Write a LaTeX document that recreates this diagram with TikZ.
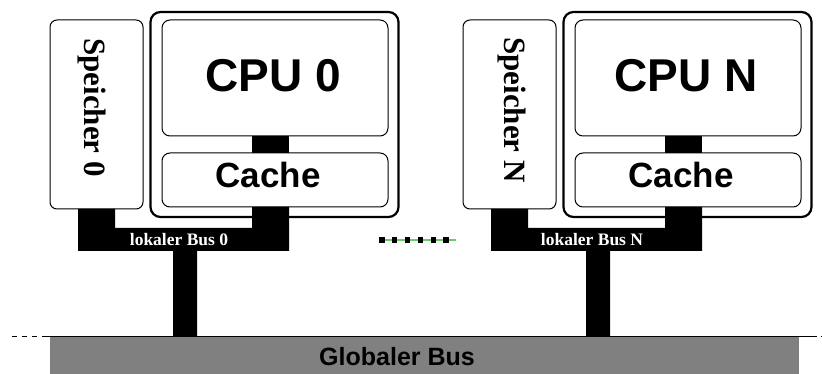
\documentclass[tikz,border=0pt]{standalone}
\usepackage{fontspec}
\setmainfont{Liberation Serif}
\setsansfont{Liberation Sans}
\usetikzlibrary{calc}
\definecolor{dotgreen}{RGB}{105,205,105}
\tikzset{
  membox/.style={draw, line width=1pt, rounded corners=7pt, fill=white,
    minimum width=93pt, minimum height=189pt, inner sep=0pt},
  outerbox/.style={draw, line width=2.2pt, rounded corners=10pt, fill=white,
    minimum width=248pt, minimum height=205pt, inner sep=0pt},
  unitbox/.style={draw, line width=1pt, rounded corners=8pt, fill=white,
    minimum width=226pt, inner sep=0pt},
  biglabel/.style={font=\sffamily\bfseries\fontsize{46}{46}\selectfont, inner sep=0pt},
  cachelabel/.style={font=\sffamily\bfseries\fontsize{35}{35}\selectfont, inner sep=0pt},
  memlabel/.style={font=\rmfamily\bfseries\fontsize{31}{31}\selectfont, rotate=-90, inner sep=0pt},
  buslabel/.style={font=\rmfamily\bfseries\fontsize{17.5}{17.5}\selectfont, text=white, inner sep=0pt},
  busfill/.style={fill=black},
}
% one processing node: memory, CPU with cache, local bus and its stem
\newcommand\procgroup[5]{%
  \begin{scope}[xshift=#1]
    \node[membox] (mem#2) at (96.5,114.5) {};
    \node[outerbox] (node#2) at (274.5,114.5) {};
    \node[unitbox, minimum height=116pt] (cpu#2) at (275,78) {};
    \node[unitbox, minimum height=54pt] (cache#2) at (275,180) {};
    % link between CPU and cache
    \fill[busfill] (252,136.5) rectangle (289,153);
    % local bus with its taps and the stem down to the global bus
    \fill[busfill] (78,209) -- (115,209) -- (115,228) -- (252,228) -- (252,207)
      -- (289,207) -- (289,251) -- (197,251) -- (197,336) -- (173,336)
      -- (173,251) -- (78,251) -- cycle;
    \node[biglabel] (cpulbl#2) at (273,76) {CPU #2};
    \node[cachelabel] (cachelbl#2) at (268,175) {Cache};
    \node[memlabel] (memlbl#2) at (#4,#5) {Speicher #3};
    \node[buslabel] (buslbl#2) at (179,240) {lokaler Bus #3};
  \end{scope}}
\begin{document}
\begin{tikzpicture}[x=1pt, y=-1pt]
  \useasboundingbox (0,0) rectangle (822,374);
  % global bus
  \node[fill=black!50, minimum width=749pt, minimum height=40pt, inner sep=0pt,
    anchor=north west] (gbus) at (50,336) {};
  \node[font=\sffamily\bfseries\fontsize{25}{25}\selectfont, inner sep=0pt]
    (gbuslbl) at (397,357) {Globaler Bus};
  \coordinate (gl0) at (12,336);
  \coordinate (gl1) at (43,336);
  \coordinate (gl2) at (812,336);
  \coordinate (gl3) at (822,336);
  \draw[line width=1pt, dash pattern=on 4.5pt off 5.5pt] (gl0) -- (gl1);
  \draw[line width=1pt] (gl1) -- (gl2);
  \draw[line width=1pt, dash pattern=on 5pt off 4pt] (gl2) -- (gl3);
  % processing nodes
  \procgroup{0pt}{0}{0}{92}{107.5}
  \procgroup{413pt}{N}{N}{99}{110}
  % ellipsis between the nodes
  \coordinate (dotsL) at (382,240);
  \coordinate (dotsR) at (456,240);
  \draw[line width=1.5pt, dotgreen] (dotsL) -- (dotsR);
  \foreach \i in {0,...,5}
    \fill[black] ($(dotsL)+(\i*12.8-2.6,-2.6)$) rectangle ++(5.2,5.2);
\end{tikzpicture}
\end{document}
